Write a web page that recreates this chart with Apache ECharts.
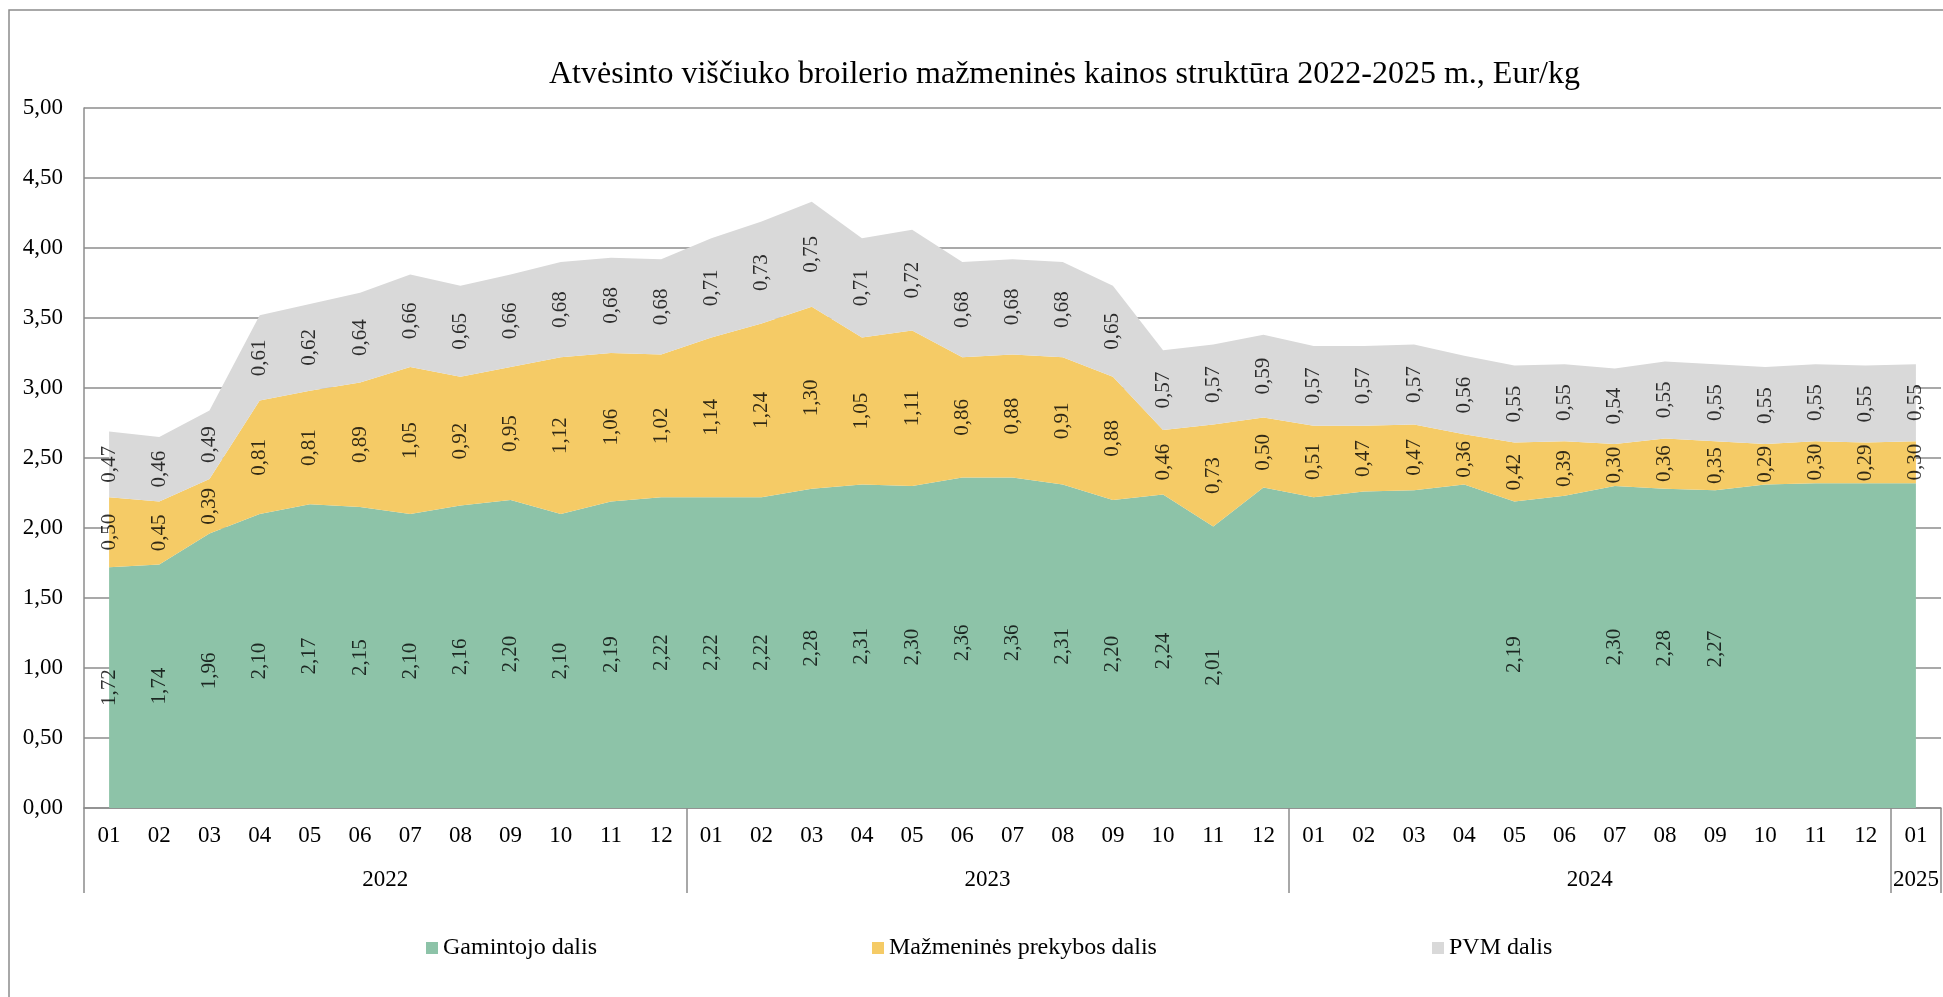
<!DOCTYPE html>
<html>
<head>
<meta charset="utf-8">
<script src="https://cdn.jsdelivr.net/npm/echarts@6/dist/echarts.min.js"></script>
<style>
  html, body { margin: 0; padding: 0; background: #fff; }
  #chart { width: 1943px; height: 997px; }
</style>
</head>
<body>
<div id="chart"></div>
<script>
// mėnesiai ir metai (dviejų lygių kategorijų ašis)
const months = [
  "01", "02", "03", "04", "05", "06", "07", "08", "09", "10", "11", "12",
  "01", "02", "03", "04", "05", "06", "07", "08", "09", "10", "11", "12",
  "01", "02", "03", "04", "05", "06", "07", "08", "09", "10", "11", "12",
  "01",
];
const years = ["2022", "2023", "2024", "2025"];
const yearMonthCounts = [12, 12, 12, 1];

// Eur/kg
const gamintojo = [
  1.72, 1.74, 1.96, 2.10, 2.17, 2.15, 2.10, 2.16, 2.20, 2.10, 2.19, 2.22,
  2.22, 2.22, 2.28, 2.31, 2.30, 2.36, 2.36, 2.31, 2.20, 2.24, 2.01, 2.29,
  2.22, 2.26, 2.27, 2.31, 2.19, 2.23, 2.30, 2.28, 2.27, 2.31, 2.32, 2.32,
  2.32,
];
const prekybos = [
  0.50, 0.45, 0.39, 0.81, 0.81, 0.89, 1.05, 0.92, 0.95, 1.12, 1.06, 1.02,
  1.14, 1.24, 1.30, 1.05, 1.11, 0.86, 0.88, 0.91, 0.88, 0.46, 0.73, 0.50,
  0.51, 0.47, 0.47, 0.36, 0.42, 0.39, 0.30, 0.36, 0.35, 0.29, 0.30, 0.29,
  0.30,
];
const pvm = [
  0.47, 0.46, 0.49, 0.61, 0.62, 0.64, 0.66, 0.65, 0.66, 0.68, 0.68, 0.68,
  0.71, 0.73, 0.75, 0.71, 0.72, 0.68, 0.68, 0.68, 0.65, 0.57, 0.57, 0.59,
  0.57, 0.57, 0.57, 0.56, 0.55, 0.55, 0.54, 0.55, 0.55, 0.55, 0.55, 0.55,
  0.55,
];
// gamintojo dalies reikšmės, kurių originale nerodo
const gamintojoNoLabel = [23, 24, 25, 26, 27, 29, 33, 34, 35, 36];

const FONT = "Liberation Serif";
const colors = ["#8DC3A8", "#F5CB66", "#D9D9D9"];
const names = ["Gamintojo dalis", "Mažmeninės prekybos dalis", "PVM dalis"];

const fmt = (v) => v.toFixed(2).replace(".", ",");

// year boundaries / centres for the second axis level
const yearEdges = [0];
yearMonthCounts.forEach((c) => yearEdges.push(yearEdges[yearEdges.length - 1] + c));
const yearCentres = yearMonthCounts.map((c, i) => yearEdges[i] + c / 2);

// labels in the middle of each stacked band
function midLabels(values, bases, hidden) {
  const out = [];
  values.forEach((v, i) => {
    if (hidden && hidden.includes(i)) return;
    out.push([i, bases[i] + v / 2, v]);
  });
  return out;
}
const zeros = gamintojo.map(() => 0);
const base2 = gamintojo.slice();
const base3 = gamintojo.map((v, i) => v + prekybos[i]);

function areaSeries(name, data, color) {
  return {
    name: name,
    type: "line",
    stack: "total",
    data: data,
    symbol: "none",
    lineStyle: { width: 0 },
    areaStyle: { color: color, opacity: 1 },
    itemStyle: { color: color },
    emphasis: { disabled: true },
    silent: true,
  };
}
function labelSeries(data) {
  return {
    type: "scatter",
    data: data,
    symbolSize: 0,
    silent: true,
    z: 5,
    label: {
      show: true,
      position: "inside",
      rotate: 90,
      color: "#000",
      fontFamily: FONT,
      fontSize: 21,
      formatter: (p) => fmt(p.data[2]),
    },
  };
}
function legendAt(left, name) {
  return {
    data: [name],
    left: left,
    top: 931,
    icon: "rect",
    itemWidth: 12,
    itemHeight: 12,
    itemGap: 5,
    selectedMode: false,
    textStyle: { fontFamily: FONT, fontSize: 24, color: "#000", padding: [0, 0, 0, 0] },
  };
}

const chart = echarts.init(document.getElementById("chart"));
chart.setOption({
  animation: false,
  backgroundColor: "#fff",
  title: {
    text: "Atvėsinto viščiuko broilerio mažmeninės kainos struktūra 2022-2025 m., Eur/kg",
    left: 544,
    top: 54,
    textStyle: { fontFamily: FONT, fontSize: 32, fontWeight: "normal", color: "#000" },
  },
  legend: [legendAt(421, names[0]), legendAt(867, names[1]), legendAt(1427, names[2])],
  graphic: [
    {
      type: "rect",
      shape: { x: 9, y: 10, width: 2100, height: 1200 },
      style: { fill: "none", stroke: "#8c8c8c", lineWidth: 1.5 },
      silent: true,
    },
  ],
  grid: { left: 84, right: 2, top: 108, bottom: 189, containLabel: false },
  xAxis: [
    {
      type: "category",
      data: months,
      boundaryGap: true,
      axisLine: { show: true, lineStyle: { color: "#8c8c8c", width: 1.5 } },
      axisTick: { show: false },
      axisLabel: { margin: 16, fontFamily: FONT, fontSize: 23, color: "#000", interval: 0 },
      splitLine: { show: false },
    },
    {
      type: "value",
      min: 0,
      max: yearEdges[yearEdges.length - 1],
      position: "bottom",
      axisLine: { show: false },
      axisTick: {
        show: true,
        customValues: yearEdges,
        length: 85,
        lineStyle: { color: "#8c8c8c", width: 1.5 },
      },
      axisLabel: {
        customValues: yearCentres,
        margin: 60,
        fontFamily: FONT,
        fontSize: 23,
        color: "#000",
        formatter: (v) => years[yearCentres.indexOf(v)],
      },
      splitLine: { show: false },
    },
  ],
  yAxis: {
    type: "value",
    min: 0,
    max: 5,
    interval: 0.5,
    axisLine: { show: true, lineStyle: { color: "#8c8c8c", width: 1.5 } },
    axisTick: { show: false },
    axisLabel: { margin: 21, fontFamily: FONT, fontSize: 23, color: "#000", formatter: fmt },
    splitLine: { show: true, lineStyle: { color: "#8c8c8c", width: 1.5 } },
  },
  series: [
    areaSeries(names[0], gamintojo, colors[0]),
    areaSeries(names[1], prekybos, colors[1]),
    areaSeries(names[2], pvm, colors[2]),
    labelSeries(midLabels(gamintojo, zeros, gamintojoNoLabel)),
    labelSeries(midLabels(prekybos, base2)),
    labelSeries(midLabels(pvm, base3)),
  ],
});
</script>
</body>
</html>
